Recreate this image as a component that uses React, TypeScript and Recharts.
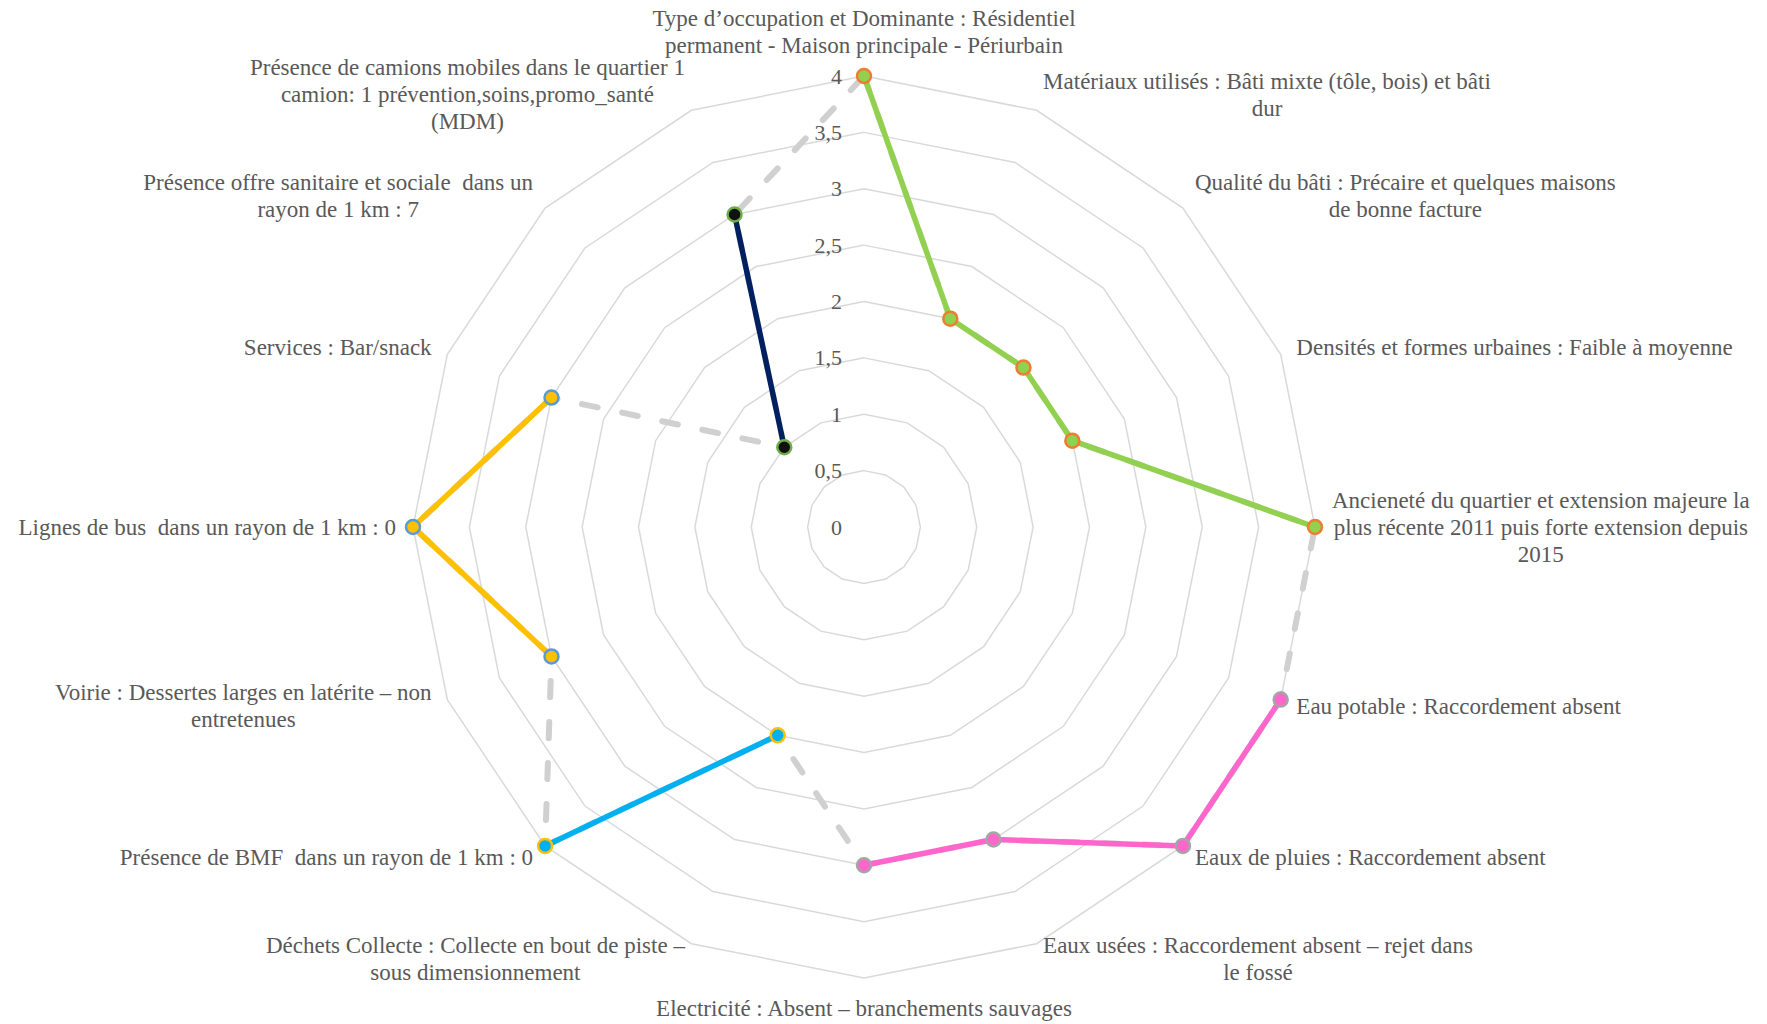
import React from "react"
import { RadarChart, Radar, PolarGrid, PolarAngleAxis, PolarRadiusAxis } from "recharts"

// axis labels, already broken into lines like in the original
const labels: string[][] = [
  ["Type d’occupation et Dominante : Résidentiel", "permanent - Maison principale - Périurbain"],
  ["Matériaux utilisés : Bâti mixte (tôle, bois) et bâti", "dur"],
  ["Qualité du bâti : Précaire et quelques maisons", "de bonne facture"],
  ["Densités et formes urbaines : Faible à moyenne"],
  ["Ancieneté du quartier et extension majeure la", "plus récente 2011 puis forte extension depuis", "2015"],
  ["Eau potable : Raccordement absent"],
  ["Eaux de pluies : Raccordement absent"],
  ["Eaux usées : Raccordement absent – rejet dans", "le fossé"],
  ["Electricité : Absent – branchements sauvages"],
  ["Déchets Collecte : Collecte en bout de piste –", "sous dimensionnement"],
  ["Présence de BMF  dans un rayon de 1 km : 0"],
  ["Voirie : Dessertes larges en latérite – non", "entretenues"],
  ["Lignes de bus  dans un rayon de 1 km : 0"],
  ["Services : Bar/snack"],
  ["Présence offre sanitaire et sociale  dans un", "rayon de 1 km : 7"],
  ["Présence de camions mobiles dans le quartier 1", "camion: 1 prévention,soins,promo_santé", "(MDM)"],
]

const scores = [4, 2, 2, 2, 4, 4, 4, 3, 3, 2, 4, 3, 4, 3, 1, 3]

// theme each axis belongs to (one coloured segment per theme)
const themeOf = [
  "bati", "bati", "bati", "bati", "bati",
  "reseaux", "reseaux", "reseaux", "reseaux",
  "equip", "equip",
  "mobilite", "mobilite", "mobilite",
  "sante", "sante",
]

const radiusTicks = [0, 0.5, 1, 1.5, 2, 2.5, 3, 3.5, 4]

const themes = [
  { key: "bati", line: "#92D050", dotFill: "#92D050", dotStroke: "#ED7D31" },
  { key: "reseaux", line: "#FF66CC", dotFill: "#FF66CC", dotStroke: "#A5A5A5" },
  { key: "equip", line: "#00B0F0", dotFill: "#00B0F0", dotStroke: "#FFC000" },
  { key: "mobilite", line: "#FFC000", dotFill: "#FFC000", dotStroke: "#5B9BD5" },
  { key: "sante", line: "#002060", dotFill: "#111111", dotStroke: "#70AD47" },
]

const data = labels.map((l, i) => {
  const row: any = { axe: l.join(" "), score: scores[i] }
  themes.forEach((t) => {
    row[t.key] = themeOf[i] === t.key ? scores[i] : null
  })
  return row
})

const W = 1767
const H = 1024
const CX = 864
const CY = 527
const R = 451
const FONT = '"Liberation Serif", "Times New Roman", serif'
const FS = 23
const LH = 27
const GAP = 17
const TEXT = "#595959"

let ctx: CanvasRenderingContext2D | null = null
function measure(s: string) {
  if (!ctx && typeof document !== "undefined") ctx = document.createElement("canvas").getContext("2d")
  if (!ctx) return s.length * FS * 0.45
  ctx.font = `${FS}px ${FONT}`
  return ctx.measureText(s).width
}

function AngleTick(props: any) {
  const { x, y, index } = props
  const lines = labels[index] || [String(props.payload?.value)]
  const dx = x - CX
  const dy = y - CY
  const len = Math.hypot(dx, dy) || 1
  const ux = dx / len
  const uy = dy / len
  const ax = CX + ux * (R + GAP)
  const ay = CY + uy * (R + GAP)
  const w = Math.max(...lines.map(measure))
  const h = lines.length * LH
  let midX = ax
  let top = ay - h / 2
  if (Math.abs(ux) < 0.05) {
    top = uy < 0 ? ay - h : ay
  } else {
    midX = ux > 0 ? ax + w / 2 : ax - w / 2
  }
  return (
    <g>
      {lines.map((s, k) => (
        <text
          key={k}
          x={midX}
          y={top + LH * (k + 0.5)}
          textAnchor="middle"
          dominantBaseline="central"
          fontFamily={FONT}
          fontSize={FS}
          fill={TEXT}
          style={{ whiteSpace: "pre" }}
        >
          {s}
        </text>
      ))}
    </g>
  )
}

function RadiusTick(props: any) {
  const { x, y, payload } = props
  return (
    <text x={x - 22} y={y} textAnchor="end" dominantBaseline="central" fontFamily={FONT} fontSize={22} fill={TEXT}>
      {String(payload.value).replace(".", ",")}
    </text>
  )
}

// open polyline through the axes of one theme
const segmentShape = (key: string, color: string) => (props: any) => {
  const pts = (props.points || []).filter((_: any, i: number) => themeOf[i] === key)
  const d = pts.map((p: any, i: number) => `${i ? "L" : "M"}${p.x},${p.y}`).join(" ")
  return <path d={d} fill="none" stroke={color} strokeWidth={5.5} strokeLinejoin="round" strokeLinecap="round" />
}

const dashedShape = (props: any) => {
  const pts = props.points || []
  const d = pts.map((p: any, i: number) => `${i ? "L" : "M"}${p.x},${p.y}`).join(" ") + " Z"
  return <path d={d} fill="none" stroke="#D0D0D0" strokeWidth={6} strokeDasharray="16 25" strokeLinecap="round" />
}

const segmentDot = (key: string, fill: string, stroke: string) => (p: any) =>
  themeOf[p.index] === key ? (
    <circle key={`d-${key}-${p.index}`} cx={p.cx} cy={p.cy} r={7} fill={fill} stroke={stroke} strokeWidth={2.5} />
  ) : (
    <g key={`d-${key}-${p.index}`} />
  )

export default function App() {
  return (
    <div style={{ position: "absolute", left: 0, top: 0, width: W, height: H, background: "#fff" }}>
      <RadarChart width={W} height={H} data={data} cx={CX} cy={CY} outerRadius={R} margin={{ top: 0, right: 0, bottom: 0, left: 0 }}>
        <PolarGrid gridType="polygon" radialLines={false} stroke="#D9D9D9" strokeWidth={1.5} />
        <PolarAngleAxis dataKey="axe" tick={AngleTick} tickLine={false} axisLine={false} />
        <PolarRadiusAxis
          angle={90}
          type="number"
          domain={[0, 4]}
          ticks={radiusTicks}
          tickCount={9}
          axisLine={false}
          tickLine={false}
          tick={RadiusTick}
        />
        <Radar name="ensemble" dataKey="score" shape={dashedShape} dot={false} fill="none" isAnimationActive={false} />
        {themes.map((t) => (
          <Radar
            key={t.key}
            name={t.key}
            dataKey={t.key}
            shape={segmentShape(t.key, t.line)}
            dot={segmentDot(t.key, t.dotFill, t.dotStroke)}
            fill="none"
            stroke={t.line}
            isAnimationActive={false}
          />
        ))}
      </RadarChart>
    </div>
  )
}
